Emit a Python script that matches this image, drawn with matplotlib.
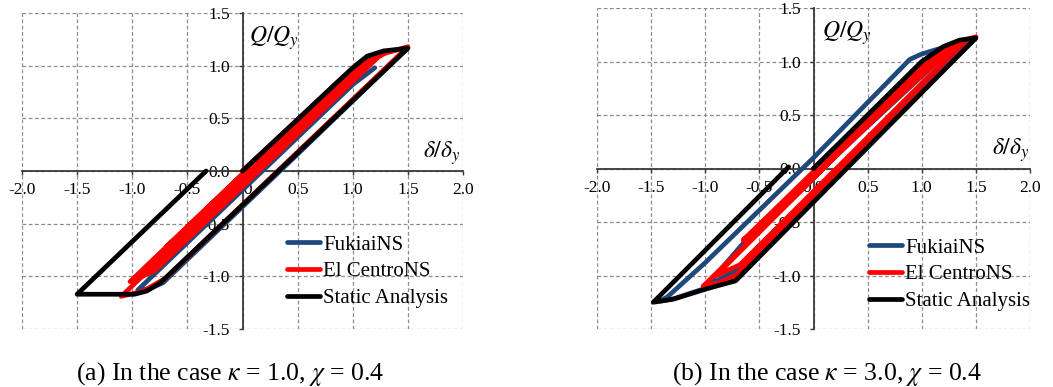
import matplotlib
matplotlib.use('Agg')
import matplotlib.pyplot as plt

plt.rcParams['font.family'] = ['Liberation Serif', 'DejaVu Serif']
plt.rcParams['mathtext.fontset'] = 'stix'
plt.rcParams['axes.unicode_minus'] = False

# ---- data ----
labels = ['FukiaiNS', 'El CentroNS', 'Static Analysis']
colors = ['#1F497D', '#FF0000', '#000000']
ticks_x = [-2.0, -1.5, -1.0, -0.5, 0.0, 0.5, 1.0, 1.5, 2.0]
ticks_y = [-1.5, -1.0, -0.5, 0.0, 0.5, 1.0, 1.5]

# (a) kappa = 1.0
a_fukiai_x = [0.0, 0.5, 1.0, 1.15, 1.3, 1.5, 0.5, -0.72, -0.85, -0.95, -0.5, 0.0, 0.5, 1.0, 1.2]
a_fukiai_y = [0.0, 0.48, 0.96, 1.07, 1.13, 1.17, 0.16, -1.06, -1.12, -1.13, -0.68, -0.18, 0.32, 0.82, 0.98]
a_centro_x = [0.0, 0.9, 1.1, 1.3, 1.5, -0.7, -0.9, -1.1, 0.95, 1.15, 1.28, -0.8, -1.02, 0.9, 1.1, -0.69, 0.0, 0.6]
a_centro_y = [0.0, 0.88, 1.02, 1.12, 1.18, -1.02, -1.14, -1.19, 0.86, 1.02, 1.13, -0.95, -1.05, 0.87, 1.0, -0.72, -0.03, 0.55]
a_static_x = [0.0, 1.0, 1.13, 1.28, 1.5, -0.75, -0.87, -0.98, -1.5, -0.33]
a_static_y = [0.0, 0.98, 1.09, 1.14, 1.165, -1.066, -1.14, -1.17, -1.17, 0.0]

# (b) kappa = 3.0
b_fukiai_x = [0.0, 0.95, 1.2, 1.5, -0.75, -1.0, -1.3, -1.42, -1.35, -1.0, 0.0, 0.89, 1.0, 1.26, 1.45, -0.7, -1.0, -0.65, 0.4, 1.2]
b_fukiai_y = [0.0, 0.93, 1.12, 1.22, -1.03, -1.12, -1.22, -1.24, -1.2, -0.88, 0.1, 1.02, 1.07, 1.15, 1.21, -0.94, -1.11, -0.7, 0.3, 1.05]
b_centro_x = [0.0, 0.9, 1.15, 1.35, 1.5, -0.72, -0.88, -1.02, 0.95, 1.2, 1.4, -0.68, -0.9, 0.9, 1.3, -0.65, 0.05, 0.8]
b_centro_y = [0.0, 0.86, 1.08, 1.19, 1.23, -1.0, -1.07, -1.1, 0.85, 1.08, 1.2, -0.9, -1.0, 0.82, 1.15, -0.67, 0.02, 0.75]
b_static_x = [0.0, 1.0, 1.2, 1.35, 1.5, -0.72, -0.99, -1.29, -1.48, -0.23]
b_static_y = [0.0, 1.0, 1.14, 1.2, 1.22, -1.05, -1.125, -1.22, -1.25, 0.015]

captions = [r'(a) In the case $\kappa$ = 1.0, $\chi$ = 0.4',
            r'(b) In the case $\kappa$ = 3.0, $\chi$ = 0.4']

W, H = 1053, 387
fig = plt.figure(figsize=(W / 100, H / 100), dpi=100)


def px(x, y):
    # pixel position (from top-left) to figure fraction
    return x / W, 1 - y / H


def setup_axes(ax):
    ax.set_xlim(-2, 2)
    ax.set_ylim(-1.5, 1.5)
    ax.set_xticks(ticks_x)
    ax.set_yticks(ticks_y)
    ax.set_xticklabels([f'{t:.1f}' for t in ticks_x])
    ax.set_yticklabels([f'{t:.1f}' for t in ticks_y])
    ax.grid(True, ls=(0, (3, 2)), color='#8c8c8c', lw=0.9)
    ax.set_axisbelow(True)
    ax.spines['top'].set_visible(False)
    ax.spines['right'].set_visible(False)
    for s in ['left', 'bottom']:
        ax.spines[s].set_position(('data', 0))
        ax.spines[s].set_color('#3a3a3a')
        ax.spines[s].set_linewidth(1.3)
    ax.tick_params(direction='out', length=3, width=1, color='#3a3a3a', labelsize=12.5)
    ax.tick_params(axis='y', pad=6)
    ax.tick_params(axis='x', pad=5)
    ax.patch.set_alpha(0)


panels = [
    ([22, 13, 463, 329], [(a_fukiai_x, a_fukiai_y), (a_centro_x, a_centro_y), (a_static_x, a_static_y)],
     (249, 43), (423, 158), (287, 235), (230, 374)),
    ([597, 8, 1030, 329], [(b_fukiai_x, b_fukiai_y), (b_centro_x, b_centro_y), (b_static_x, b_static_y)],
     (822, 38), (992, 155), (869, 238), (827, 374)),
]

for i, (box, series, qpos, dpos, legpos, cappos) in enumerate(panels):
    x0, y0, x1, y1 = box
    l, b = px(x0, y1)
    ax = fig.add_axes([l, b, (x1 - x0) / W, (y1 - y0) / H])
    setup_axes(ax)
    for (xs, ys), lab, c in zip(series, labels, colors):
        ax.plot(xs, ys, color=c, lw=3.4, label=lab, solid_joinstyle='round',
                solid_capstyle='round', zorder=3)
    fig.text(*px(*qpos), r'$Q/Q_y$', fontsize=17, ha='left', va='baseline')
    fig.text(*px(*dpos), r'$\delta/\delta_y$', fontsize=17, ha='left', va='baseline')
    ax.legend(loc='upper left', bbox_to_anchor=px(*legpos), bbox_transform=fig.transFigure,
              frameon=False, fontsize=15, handlelength=1.6, handletextpad=0.15,
              labelspacing=0.35, borderpad=0, borderaxespad=0)
    fig.text(*px(*cappos), captions[i], fontsize=18.5, ha='center', va='center')

fig.savefig('out.png', dpi=100)
